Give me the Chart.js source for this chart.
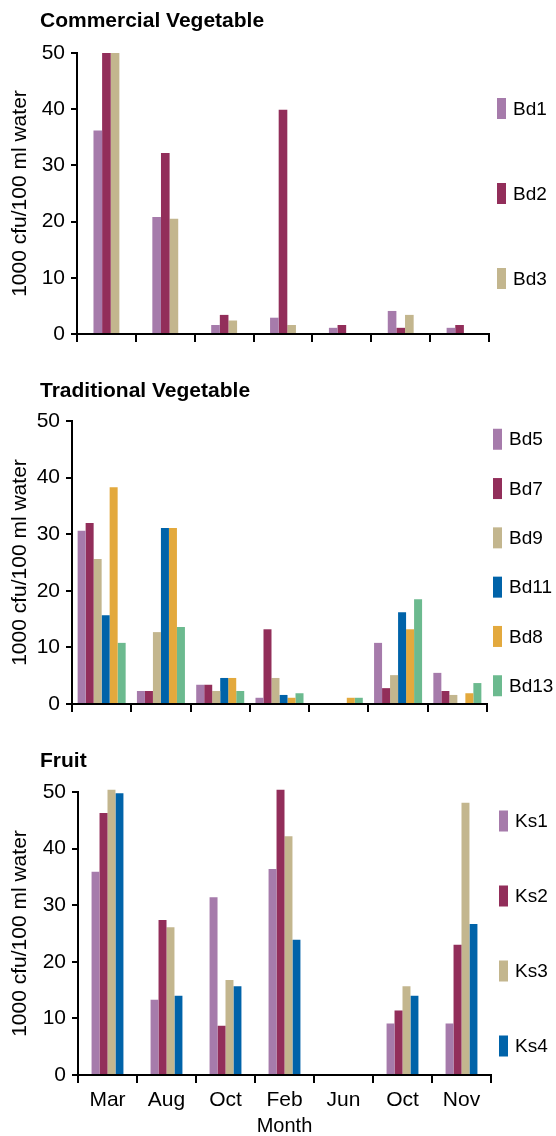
<!DOCTYPE html>
<html>
<head>
<meta charset="utf-8">
<script src="https://cdn.jsdelivr.net/npm/chart.js@4"></script>
<style>
  html, body { margin: 0; padding: 0; background: #fff; }
  body { width: 556px; height: 1136px; position: relative; overflow: hidden; }
  canvas { position: absolute; left: 0; }
</style>
</head>
<body>
<canvas id="c1" width="556" height="370" style="top:0px"></canvas>
<canvas id="c2" width="556" height="370" style="top:370px"></canvas>
<canvas id="c3" width="556" height="396" style="top:740px"></canvas>
<script>
// ---------- data ----------
const months = ['Mar', 'Aug', 'Oct', 'Feb', 'Jun', 'Oct', 'Nov'];
const yTicks = [0, 10, 20, 30, 40, 50];

// Commercial Vegetable
const bd1 = [36.2, 20.8, 1.6, 2.9, 1.1, 4.1, 1.1];
const bd2 = [50.0, 32.2, 3.4, 39.9, 1.6, 1.1, 1.6];
const bd3 = [50.0, 20.5, 2.4, 1.6, 0, 3.4, 0];

// Traditional Vegetable
const bd5  = [30.6, 2.3, 3.4, 1.1, 0, 10.8, 5.5];
const bd7  = [32.0, 2.3, 3.4, 13.2, 0, 2.8, 2.3];
const bd9  = [25.6, 12.7, 2.3, 4.6, 0, 5.1, 1.6];
const bd11 = [15.7, 31.1, 4.6, 1.6, 0, 16.2, 0];
const bd8  = [38.3, 31.1, 4.6, 1.1, 1.1, 13.2, 1.9];
const bd13 = [10.8, 13.6, 2.3, 1.9, 1.1, 18.5, 3.7];

// Fruit
const ks1 = [35.9, 13.3, 31.4, 36.4, 0, 9.1, 9.1];
const ks2 = [46.3, 27.4, 8.7, 50.4, 0, 11.4, 23.0];
const ks3 = [50.4, 26.1, 16.8, 42.2, 0, 15.7, 48.1];
const ks4 = [49.8, 14.0, 15.7, 23.9, 0, 14.0, 26.7];

// ---------- styles ----------
const C_PURPLE = '#A67BAB';
const C_MAROON = '#922E5A';
const C_TAN    = '#C3B68E';
const C_BLUE   = '#0063A9';
const C_ORANGE = '#E3A93D';
const C_GREEN  = '#6CBA8F';
const FONT = '"Liberation Sans", Arial, Helvetica, sans-serif';

const panelPlugin = {
  id: 'panel',
  afterDraw(chart, args, opts) {
    const ctx = chart.ctx;
    const area = chart.chartArea;
    ctx.save();
    ctx.fillStyle = '#000';
    ctx.font = 'bold 21px ' + FONT;
    ctx.textAlign = 'left';
    ctx.textBaseline = 'alphabetic';
    ctx.fillText(opts.title, opts.titleX, opts.titleY);
    const dsets = chart.data.datasets;
    const n = dsets.length;
    const mid = (area.top + area.bottom) / 2;
    ctx.font = '19px ' + FONT;
    ctx.textBaseline = 'middle';
    dsets.forEach((ds, i) => {
      const cy = mid + (i - (n - 1) / 2) * opts.spacing;
      ctx.fillStyle = ds.backgroundColor;
      ctx.fillRect(opts.legendX, cy - 10.5, 9, 21);
      ctx.fillStyle = '#000';
      ctx.fillText(ds.label, opts.legendX + 16, cy + 1);
    });
    ctx.restore();
  }
};

function makeChart(id, cfg) {
  const datasets = cfg.series.map(s => ({
    label: s.label,
    data: s.data,
    backgroundColor: s.color,
    borderWidth: 0,
    clip: false,
    barPercentage: 1.0,
    categoryPercentage: cfg.catPct
  }));
  return new Chart(document.getElementById(id), {
    type: 'bar',
    data: { labels: months, datasets },
    plugins: [panelPlugin],
    options: {
      responsive: false,
      animation: false,
      devicePixelRatio: 1,
      layout: { padding: { top: cfg.padTop, right: cfg.padRight, bottom: 0, left: 0 } },
      plugins: {
        legend: { display: false },
        tooltip: { enabled: false },
        title: { display: false },
        panel: { title: cfg.title, titleX: 40, titleY: cfg.titleY, legendX: cfg.legendX, spacing: cfg.spacing }
      },
      scales: {
        x: {
          afterFit: s => { s.height = cfg.xHeight; },
          grid: { display: true, drawOnChartArea: false, drawTicks: true, tickLength: 8, offset: true, color: '#000', lineWidth: 2 },
          border: { display: true, color: '#000', width: 2 },
          ticks: {
            display: cfg.showX,
            color: '#000',
            padding: 5,
            maxRotation: 0,
            autoSkip: false,
            font: { family: FONT, size: 21 }
          },
          title: {
            display: cfg.showX,
            text: 'Month',
            color: '#000',
            padding: { top: 0, bottom: 0 },
            font: { family: FONT, size: 20, lineHeight: 1.0 }
          }
        },
        y: {
          min: 0,
          max: 50,
          afterFit: s => { s.width = cfg.yWidth; },
          afterBuildTicks: s => { s.ticks = yTicks.map(v => ({ value: v })); },
          grid: { display: true, drawOnChartArea: false, drawTicks: true, tickLength: 6, color: '#000', lineWidth: 2 },
          border: { display: true, color: '#000', width: 2 },
          ticks: {
            color: '#000',
            padding: 6,
            font: { family: FONT, size: 21 }
          },
          title: {
            display: true,
            text: '1000 cfu/100 ml water',
            color: '#000',
            padding: { top: 8, bottom: 0 },
            font: { family: FONT, size: 21, lineHeight: 1.2 }
          }
        }
      }
    }
  });
}

makeChart('c1', {
  title: 'Commercial Vegetable', titleY: 27,
  series: [
    { label: 'Bd1', data: bd1, color: C_PURPLE },
    { label: 'Bd2', data: bd2, color: C_MAROON },
    { label: 'Bd3', data: bd3, color: C_TAN }
  ],
  catPct: 0.44, padTop: 53, padRight: 67, yWidth: 77, xHeight: 36,
  legendX: 497, spacing: 85, showX: false
});

makeChart('c2', {
  title: 'Traditional Vegetable', titleY: 27,
  series: [
    { label: 'Bd5', data: bd5, color: C_PURPLE },
    { label: 'Bd7', data: bd7, color: C_MAROON },
    { label: 'Bd9', data: bd9, color: C_TAN },
    { label: 'Bd11', data: bd11, color: C_BLUE },
    { label: 'Bd8', data: bd8, color: C_ORANGE },
    { label: 'Bd13', data: bd13, color: C_GREEN }
  ],
  catPct: 0.81, padTop: 51, padRight: 69, yWidth: 72, xHeight: 36,
  legendX: 493, spacing: 49.3, showX: false
});

makeChart('c3', {
  title: 'Fruit', titleY: 27,
  series: [
    { label: 'Ks1', data: ks1, color: C_PURPLE },
    { label: 'Ks2', data: ks2, color: C_MAROON },
    { label: 'Ks3', data: ks3, color: C_TAN },
    { label: 'Ks4', data: ks4, color: C_BLUE }
  ],
  catPct: 0.54, padTop: 52, padRight: 65, yWidth: 78, xHeight: 61,
  legendX: 499, spacing: 75, showX: true
});
</script>
</body>
</html>
